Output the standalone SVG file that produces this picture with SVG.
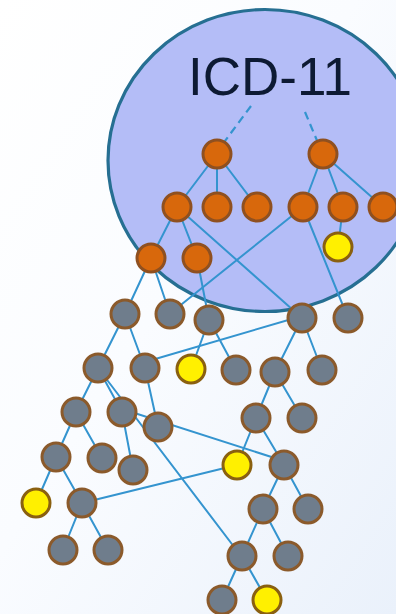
<svg xmlns="http://www.w3.org/2000/svg" width="396" height="614" viewBox="0 0 396 614">
<defs>
<linearGradient id="bg" x1="0" y1="0" x2="1" y2="1">
<stop offset="0" stop-color="#ffffff"/>
<stop offset="0.45" stop-color="#fafcff"/>
<stop offset="1" stop-color="#eaf1fb"/>
</linearGradient>
</defs>
<style>
.e{stroke:#3494cf;stroke-width:2;fill:none;stroke-linecap:round}
.d{stroke:#3494cf;stroke-width:2.2;fill:none;stroke-dasharray:8 5}
.o{fill:#d8680c;stroke:#8f5020;stroke-width:3}
.g{fill:#6f7d8c;stroke:#8b5a2b;stroke-width:3}
.y{fill:#fff000;stroke:#8a6010;stroke-width:3}
.t{font-family:"Liberation Sans",Arial,sans-serif;font-size:53px;fill:#0d1a33}
</style>
<rect width="396" height="614" fill="url(#bg)"/>
<g id="icd11-scope">
<ellipse cx="265" cy="160.5" rx="157" ry="151" fill="#b4bdf7" stroke="#266f92" stroke-width="3.2"/>
<text class="t" x="188" y="95">ICD-11</text>
</g>
<g id="connectors">
<line class="d" x1="251" y1="106" x2="219" y2="149"/>
<line class="d" x1="305" y1="112" x2="321" y2="150"/>
<line class="e" x1="217" y1="154" x2="177" y2="207"/>
<line class="e" x1="217" y1="154" x2="217" y2="207"/>
<line class="e" x1="217" y1="154" x2="257" y2="207"/>
<line class="e" x1="323" y1="154" x2="303" y2="207"/>
<line class="e" x1="323" y1="154" x2="343" y2="207"/>
<line class="e" x1="323" y1="154" x2="383" y2="207"/>
<line class="e" x1="343" y1="207" x2="338" y2="247"/>
<line class="e" x1="177" y1="207" x2="151" y2="258"/>
<line class="e" x1="177" y1="207" x2="197" y2="258"/>
<line class="e" x1="197" y1="258" x2="209" y2="320"/>
<line class="e" x1="177" y1="207" x2="302" y2="318"/>
<line class="e" x1="303" y1="207" x2="172" y2="312"/>
<line class="e" x1="303" y1="207" x2="348" y2="318"/>
<line class="e" x1="151" y1="258" x2="125" y2="314"/>
<line class="e" x1="151" y1="258" x2="170" y2="314"/>
<line class="e" x1="125" y1="314" x2="98" y2="368"/>
<line class="e" x1="125" y1="314" x2="145" y2="368"/>
<line class="e" x1="145" y1="362" x2="302" y2="316"/>
<line class="e" x1="209" y1="320" x2="191" y2="369"/>
<line class="e" x1="209" y1="320" x2="236" y2="370"/>
<line class="e" x1="302" y1="318" x2="275" y2="372"/>
<line class="e" x1="302" y1="318" x2="322" y2="370"/>
<line class="e" x1="98" y1="368" x2="76" y2="412"/>
<line class="e" x1="98" y1="368" x2="122" y2="412"/>
<line class="e" x1="98" y1="368" x2="241" y2="556"/>
<line class="e" x1="145" y1="368" x2="158" y2="427"/>
<line class="e" x1="122" y1="409" x2="284" y2="461"/>
<line class="e" x1="76" y1="412" x2="56" y2="457"/>
<line class="e" x1="76" y1="412" x2="102" y2="458"/>
<line class="e" x1="122" y1="412" x2="133" y2="470"/>
<line class="e" x1="275" y1="372" x2="256" y2="418"/>
<line class="e" x1="275" y1="372" x2="302" y2="418"/>
<line class="e" x1="256" y1="418" x2="237" y2="465"/>
<line class="e" x1="256" y1="418" x2="284" y2="465"/>
<line class="e" x1="56" y1="457" x2="36" y2="503"/>
<line class="e" x1="56" y1="457" x2="82" y2="503"/>
<line class="e" x1="82" y1="503" x2="237" y2="465"/>
<line class="e" x1="82" y1="503" x2="63" y2="550"/>
<line class="e" x1="82" y1="503" x2="108" y2="550"/>
<line class="e" x1="284" y1="465" x2="263" y2="509"/>
<line class="e" x1="284" y1="465" x2="308" y2="509"/>
<line class="e" x1="263" y1="509" x2="242" y2="556"/>
<line class="e" x1="263" y1="509" x2="288" y2="556"/>
<line class="e" x1="242" y1="556" x2="222" y2="600"/>
<line class="e" x1="242" y1="556" x2="267" y2="600"/>
</g>
<g id="n-a"><circle class="o" cx="217" cy="154" r="14"/></g>
<g id="n-b"><circle class="o" cx="323" cy="154" r="14"/></g>
<g id="n-o1"><circle class="o" cx="177" cy="207" r="14"/></g>
<g id="n-o2"><circle class="o" cx="217" cy="207" r="14"/></g>
<g id="n-o3"><circle class="o" cx="257" cy="207" r="14"/></g>
<g id="n-o4"><circle class="o" cx="303" cy="207" r="14"/></g>
<g id="n-o5"><circle class="o" cx="343" cy="207" r="14"/></g>
<g id="n-o6"><circle class="o" cx="383" cy="207" r="14"/></g>
<g id="n-y1"><circle class="y" cx="338" cy="247" r="14"/></g>
<g id="n-o7"><circle class="o" cx="151" cy="258" r="14"/></g>
<g id="n-o8"><circle class="o" cx="197" cy="258" r="14"/></g>
<g id="n-g1"><circle class="g" cx="125" cy="314" r="14"/></g>
<g id="n-g2"><circle class="g" cx="170" cy="314" r="14"/></g>
<g id="n-g3"><circle class="g" cx="209" cy="320" r="14"/></g>
<g id="n-g4"><circle class="g" cx="302" cy="318" r="14"/></g>
<g id="n-g5"><circle class="g" cx="348" cy="318" r="14"/></g>
<g id="n-g6"><circle class="g" cx="98" cy="368" r="14"/></g>
<g id="n-g7"><circle class="g" cx="145" cy="368" r="14"/></g>
<g id="n-y2"><circle class="y" cx="191" cy="369" r="14"/></g>
<g id="n-g8"><circle class="g" cx="236" cy="370" r="14"/></g>
<g id="n-g9"><circle class="g" cx="275" cy="372" r="14"/></g>
<g id="n-g10"><circle class="g" cx="322" cy="370" r="14"/></g>
<g id="n-g11"><circle class="g" cx="76" cy="412" r="14"/></g>
<g id="n-g12"><circle class="g" cx="122" cy="412" r="14"/></g>
<g id="n-g13"><circle class="g" cx="158" cy="427" r="14"/></g>
<g id="n-g14"><circle class="g" cx="256" cy="418" r="14"/></g>
<g id="n-g15"><circle class="g" cx="302" cy="418" r="14"/></g>
<g id="n-g16"><circle class="g" cx="56" cy="457" r="14"/></g>
<g id="n-g17"><circle class="g" cx="102" cy="458" r="14"/></g>
<g id="n-g18"><circle class="g" cx="133" cy="470" r="14"/></g>
<g id="n-y3"><circle class="y" cx="237" cy="465" r="14"/></g>
<g id="n-g19"><circle class="g" cx="284" cy="465" r="14"/></g>
<g id="n-y4"><circle class="y" cx="36" cy="503" r="14"/></g>
<g id="n-g20"><circle class="g" cx="82" cy="503" r="14"/></g>
<g id="n-g21"><circle class="g" cx="263" cy="509" r="14"/></g>
<g id="n-g22"><circle class="g" cx="308" cy="509" r="14"/></g>
<g id="n-g23"><circle class="g" cx="63" cy="550" r="14"/></g>
<g id="n-g24"><circle class="g" cx="108" cy="550" r="14"/></g>
<g id="n-g25"><circle class="g" cx="242" cy="556" r="14"/></g>
<g id="n-g26"><circle class="g" cx="288" cy="556" r="14"/></g>
<g id="n-g27"><circle class="g" cx="222" cy="600" r="14"/></g>
<g id="n-y5"><circle class="y" cx="267" cy="600" r="14"/></g>
</svg>
